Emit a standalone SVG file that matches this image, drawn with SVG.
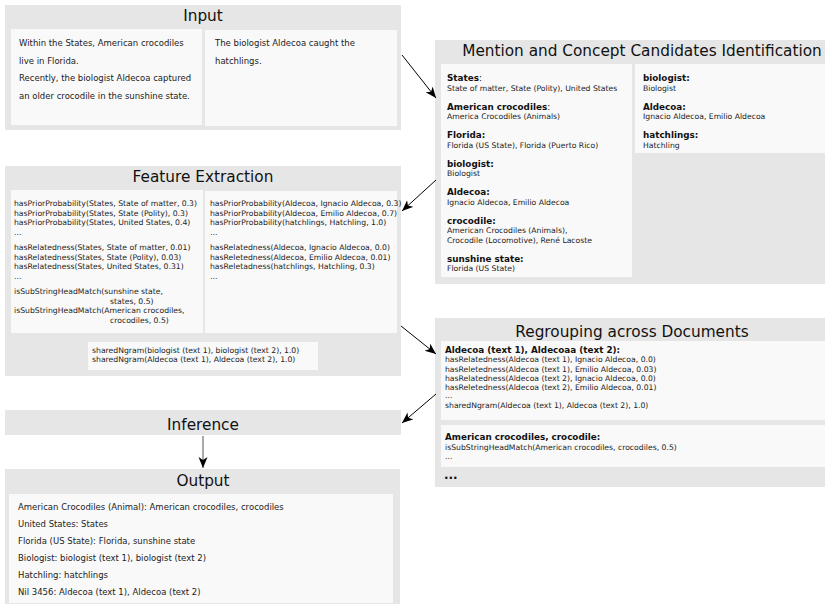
<svg xmlns="http://www.w3.org/2000/svg" width="825" height="604" viewBox="0 0 825 604">
<defs>
<style>
.outer{fill:#e6e6e6}
.inner{fill:#f9f9f9}
.title{font-family:"DejaVu Sans",sans-serif;font-size:15.3px;fill:#111;text-anchor:middle}
.t85{font-family:"DejaVu Sans",sans-serif;font-size:8.5px;fill:#222}
.t75{font-family:"DejaVu Sans",sans-serif;font-size:7.7px;fill:#222}
.b{font-family:"DejaVu Sans",sans-serif;font-size:8.8px;font-weight:bold;fill:#111}
.n{font-weight:normal}
.conn{stroke:#000;stroke-width:1;fill:none}
</style>
<marker id="ah" markerUnits="userSpaceOnUse" markerWidth="12" markerHeight="10" refX="11" refY="4.5" orient="auto">
<path d="M0,0 L11,4.5 L0,9 L3,4.5 z" fill="#000"/>
</marker>
</defs>

<g id="input">
<rect class="outer" x="5" y="5" width="396" height="125"/>
<text class="title" x="203" y="21">Input</text>
<rect class="inner" x="11" y="29" width="191" height="96"/>
<rect class="inner" x="205" y="30" width="192" height="96"/>
<text class="t85" x="19" y="46">Within the States, American crocodiles</text>
<text class="t85" x="19" y="63.7">live in Florida.</text>
<text class="t85" x="19" y="81.4">Recently, the biologist Aldecoa captured</text>
<text class="t85" x="19" y="99">an older crocodile in the sunshine state.</text>
<text class="t85" x="215" y="46">The biologist Aldecoa caught the</text>
<text class="t85" x="215" y="63.7">hatchlings.</text>
</g>

<g id="mention">
<rect class="outer" x="435" y="40" width="420" height="244"/>
<text class="title" x="642" y="56">Mention and Concept Candidates Identification</text>
<rect class="inner" x="441" y="64" width="191" height="213"/>
<rect class="inner" x="635" y="64" width="190" height="89"/>
<text class="b" x="447" y="81">States<tspan class="n">:</tspan></text>
<text class="t75" x="447" y="90.5">State of matter, State (Polity), United States</text>
<text class="b" x="447" y="109.5">American crocodiles<tspan class="n">:</tspan></text>
<text class="t75" x="447" y="119">America Crocodiles (Animals)</text>
<text class="b" x="447" y="138">Florida:</text>
<text class="t75" x="447" y="147.5">Florida (US State), Florida (Puerto Rico)</text>
<text class="b" x="447" y="166.5">biologist:</text>
<text class="t75" x="447" y="176">Biologist</text>
<text class="b" x="447" y="195">Aldecoa:</text>
<text class="t75" x="447" y="204.5">Ignacio Aldecoa, Emilio Aldecoa</text>
<text class="b" x="447" y="223.5">crocodile:</text>
<text class="t75" x="447" y="233">American Crocodiles (Animals),</text>
<text class="t75" x="447" y="242.5">Crocodile (Locomotive), René Lacoste</text>
<text class="b" x="447" y="261.5">sunshine state:</text>
<text class="t75" x="447" y="271">Florida (US State)</text>
<text class="b" x="643" y="81">biologist:</text>
<text class="t75" x="643" y="90.5">Biologist</text>
<text class="b" x="643" y="109.5">Aldecoa:</text>
<text class="t75" x="643" y="119">Ignacio Aldecoa, Emilio Aldecoa</text>
<text class="b" x="643" y="138">hatchlings:</text>
<text class="t75" x="643" y="147.5">Hatchling</text>
</g>

<g id="feature">
<rect class="outer" x="5" y="166" width="396" height="210"/>
<text class="title" x="203" y="182">Feature Extraction</text>
<rect class="inner" x="11" y="190" width="192" height="143"/>
<rect class="inner" x="205" y="191" width="192" height="142"/>
<rect class="inner" x="88" y="342" width="230" height="28"/>
<text class="t75" x="14" y="206">hasPriorProbability(States, State of matter, 0.3)</text>
<text class="t75" x="14" y="215.5">hasPriorProbability(States, State (Polity), 0.3)</text>
<text class="t75" x="14" y="225">hasPriorProbability(States, United States, 0.4)</text>
<text class="t75" x="14" y="234.5">...</text>
<text class="t75" x="14" y="250">hasRelatedness(States, State of matter, 0.01)</text>
<text class="t75" x="14" y="259.5">hasRelatedness(States, State (Polity), 0.03)</text>
<text class="t75" x="14" y="269">hasRelatedness(States, United States, 0.31)</text>
<text class="t75" x="14" y="278.5">...</text>
<text class="t75" x="14" y="294">isSubStringHeadMatch(sunshine state,</text>
<text class="t75" x="110" y="303.5">states, 0.5)</text>
<text class="t75" x="14" y="313">isSubStringHeadMatch(American crocodiles,</text>
<text class="t75" x="110" y="322.5">crocodiles, 0.5)</text>
<text class="t75" x="210" y="206">hasPriorProbability(Aldecoa, Ignacio Aldecoa, 0.3)</text>
<text class="t75" x="210" y="215.5">hasPriorProbability(Aldecoa, Emilio Aldecoa, 0.7)</text>
<text class="t75" x="210" y="225">hasPriorProbability(hatchlings, Hatchling, 1.0)</text>
<text class="t75" x="210" y="234.5">...</text>
<text class="t75" x="210" y="250">hasRelatedness(Aldecoa, Ignacio Aldecoa, 0.0)</text>
<text class="t75" x="210" y="259.5">hasReletedness(Aldecoa, Emilio Aldecoa, 0.01)</text>
<text class="t75" x="210" y="269">hasReletadness(hatchlings, Hatchling, 0.3)</text>
<text class="t75" x="210" y="278.5">...</text>
<text class="t75" x="92" y="352.5">sharedNgram(biologist (text 1), biologist (text 2), 1.0)</text>
<text class="t75" x="92" y="362">sharedNgram(Aldecoa (text 1), Aldecoa (text 2), 1.0)</text>
</g>

<g id="regrouping">
<rect class="outer" x="435" y="318" width="400" height="169"/>
<text class="title" x="632" y="337">Regrouping across Documents</text>
<rect class="inner" x="441" y="341" width="384" height="79"/>
<rect class="inner" x="441" y="425" width="384" height="42"/>
<text class="b" x="445" y="353">Aldecoa (text 1), Aldecoaa (text 2):</text>
<text class="t75" x="445" y="362">hasRelatedness(Aldecoa (text 1), Ignacio Aldecoa, 0.0)</text>
<text class="t75" x="445" y="371.5">hasReletedness(Aldecoa (text 1), Emilio Aldecoa, 0.03)</text>
<text class="t75" x="445" y="380.5">hasRelatedness(Aldecoa (text 2), Ignacio Aldecoa, 0.0)</text>
<text class="t75" x="445" y="389.5">hasReletedness(Aldecoa (text 2), Emilio Aldecoa, 0.01)</text>
<text class="t75" x="445" y="398">...</text>
<text class="t75" x="445" y="407.5">sharedNgram(Aldecoa (text 1), Aldecoa (text 2), 1.0)</text>
<text class="b" x="445" y="440">American crocodiles, crocodile:</text>
<text class="t75" x="445" y="450">isSubStringHeadMatch(American crocodiles, crocodiles, 0.5)</text>
<text class="t75" x="445" y="459">...</text>
<text class="b" x="444" y="479" style="font-size:12px">...</text>
</g>

<g id="inference">
<rect class="outer" x="5" y="410" width="396" height="25"/>
<text class="title" x="203" y="430">Inference</text>
</g>

<g id="output">
<rect class="outer" x="5" y="469" width="395" height="135"/>
<text class="title" x="203" y="486">Output</text>
<rect class="inner" x="9" y="494" width="384" height="109"/>
<text class="t85" x="18" y="510">American Crocodiles (Animal): American crocodiles, crocodiles</text>
<text class="t85" x="18" y="527">United States: States</text>
<text class="t85" x="18" y="544">Florida (US State): Florida, sunshine state</text>
<text class="t85" x="18" y="561">Biologist: biologist (text 1), biologist (text 2)</text>
<text class="t85" x="18" y="578">Hatchling: hatchlings</text>
<text class="t85" x="18" y="595">Nil 3456: Aldecoa (text 1), Aldecoa (text 2)</text>
</g>

<g id="connectors">
<line class="conn" x1="402" y1="55" x2="436" y2="98" marker-end="url(#ah)"/>
<line class="conn" x1="436" y1="180" x2="402" y2="211" marker-end="url(#ah)"/>
<line class="conn" x1="401" y1="326" x2="436" y2="354" marker-end="url(#ah)"/>
<line class="conn" x1="436" y1="394" x2="402" y2="423" marker-end="url(#ah)"/>
<line class="conn" x1="203" y1="436" x2="203" y2="468" style="stroke:#555" marker-end="url(#ah)"/>
</g>
</svg>
